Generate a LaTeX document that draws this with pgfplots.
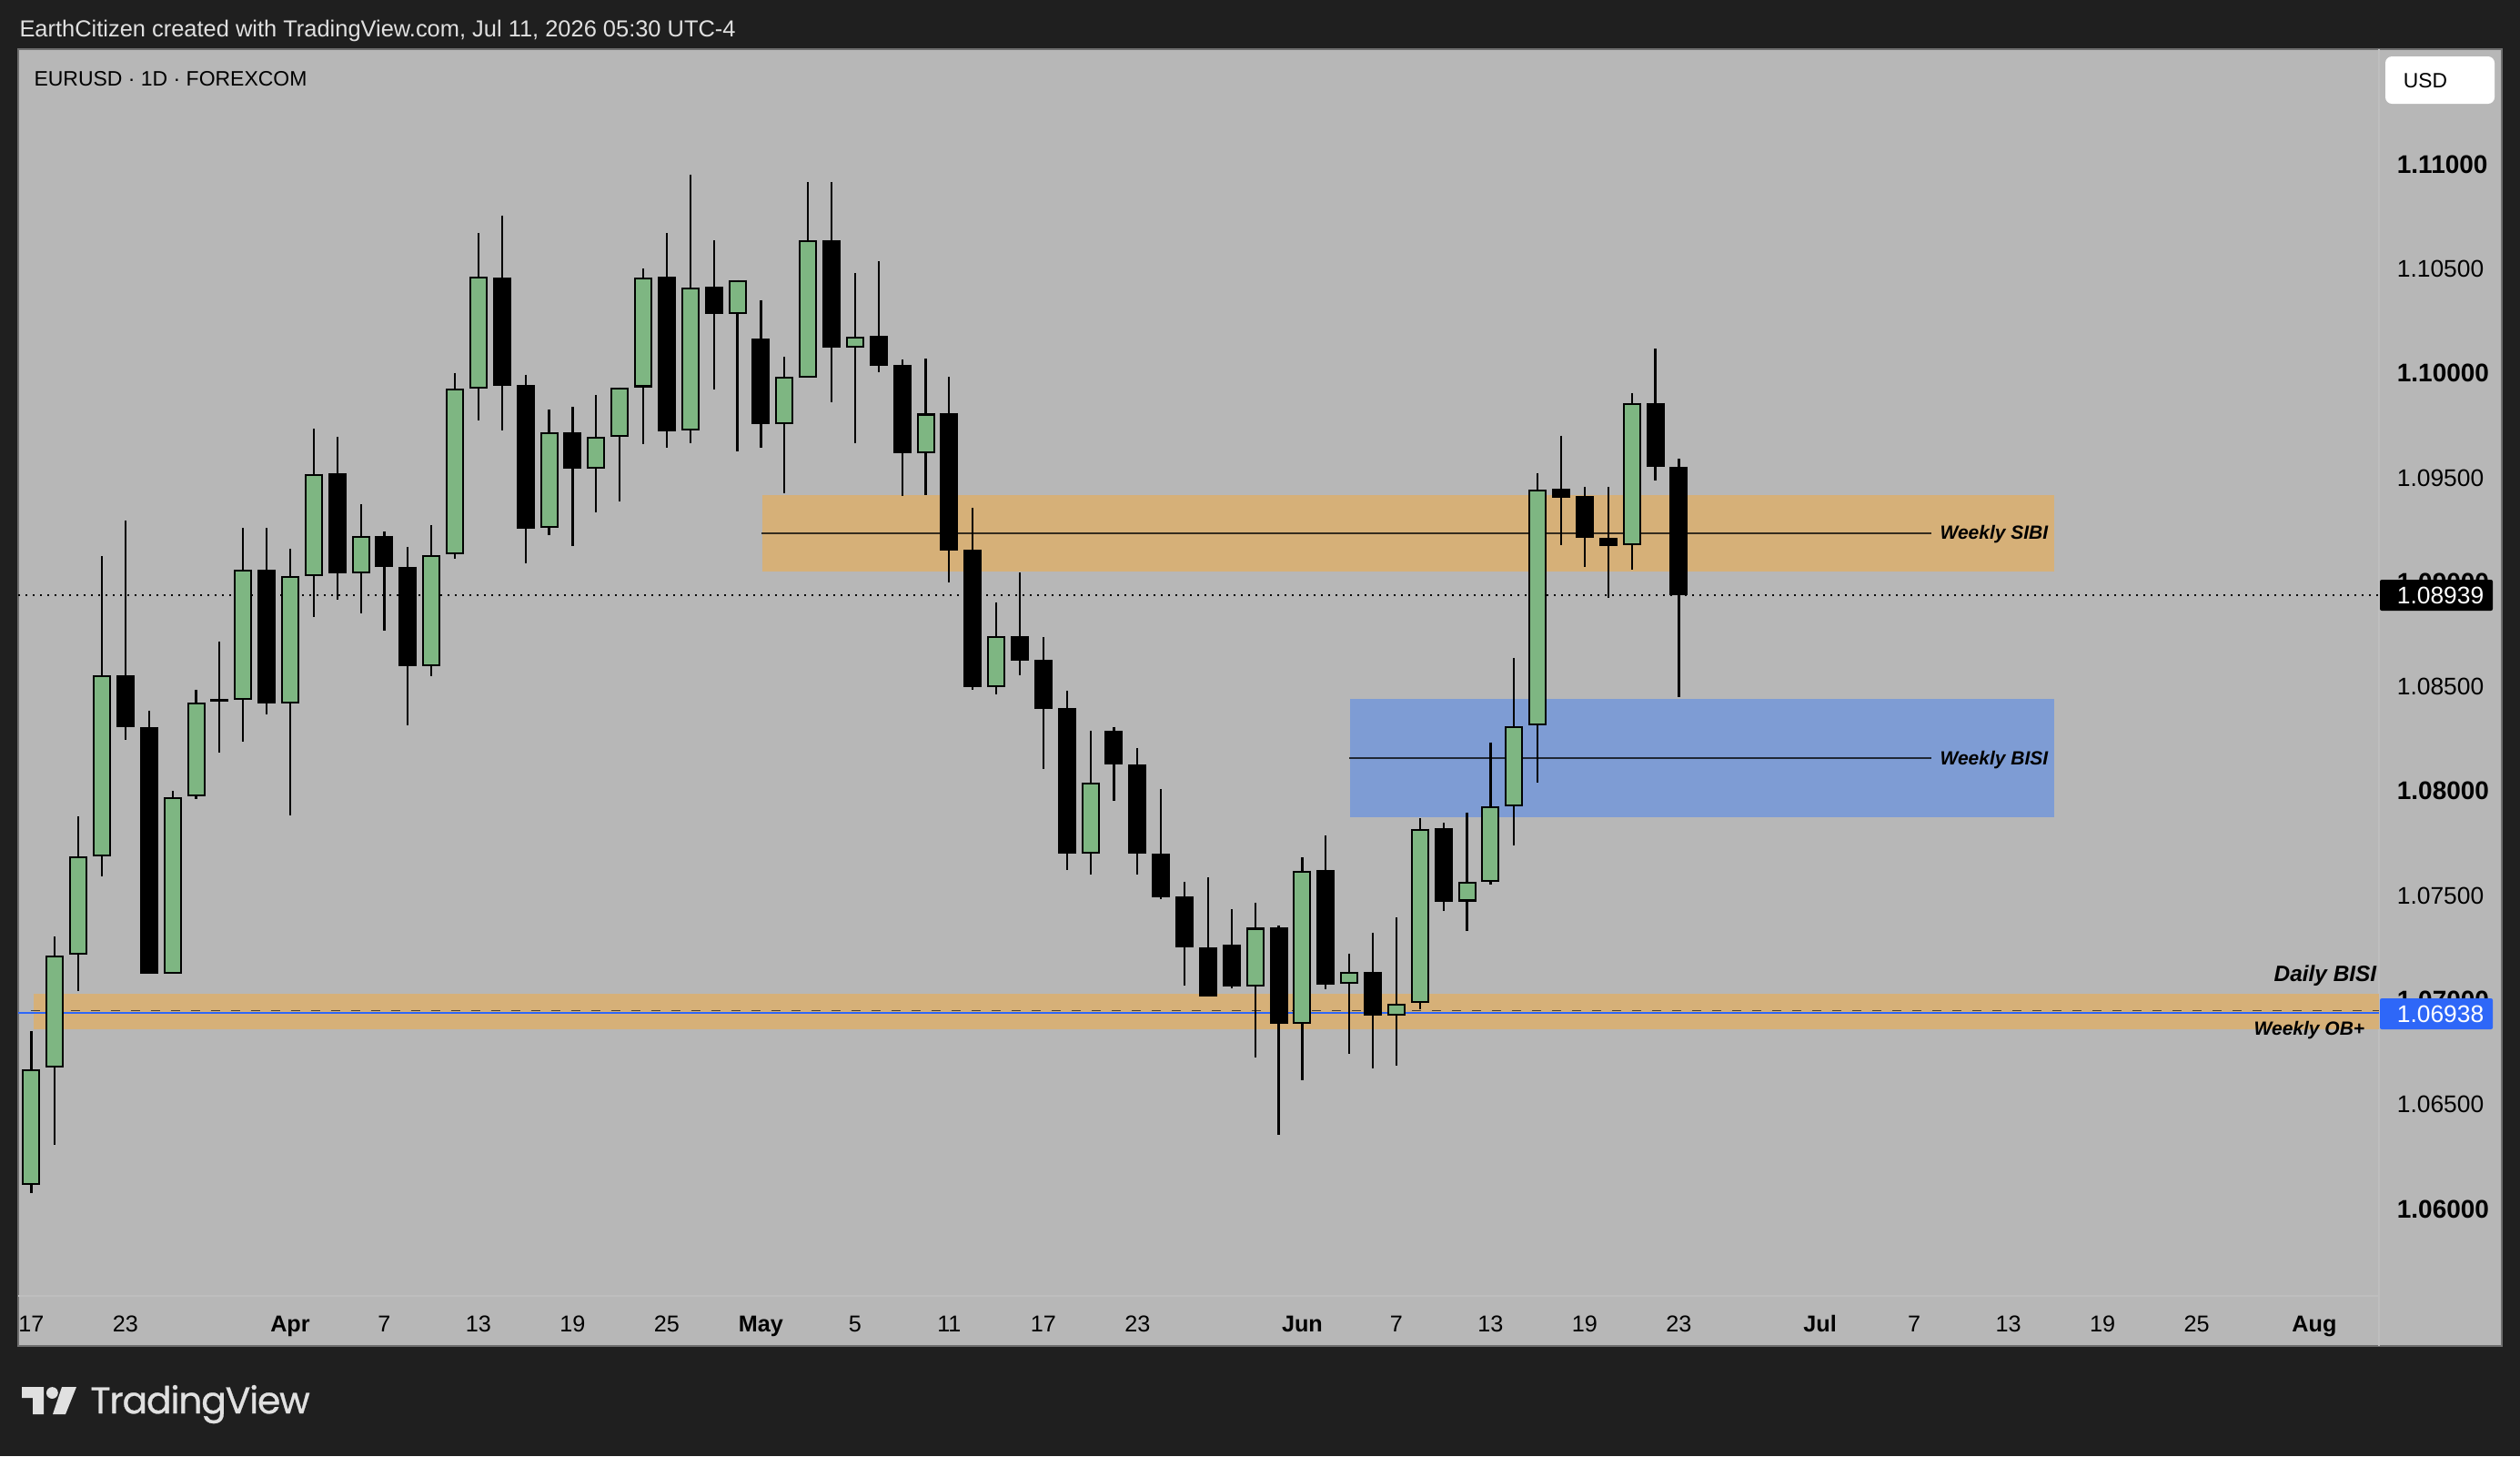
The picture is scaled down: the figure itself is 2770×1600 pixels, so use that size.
\documentclass[border=0pt]{standalone}
\usepackage{graphicx}
\usepackage{fontspec}
\setmainfont{Liberation Sans}
\newfontfamily\logofont[FakeBold=0.7]{Poppins}
\usepackage{pgfplots}
\usepackage{pgfplotstable}
\pgfplotsset{compat=1.18}
\definecolor{frame}{HTML}{1F1F1F}
\definecolor{panel}{HTML}{B7B7B7}
\definecolor{sep}{HTML}{BEBEBE}
\definecolor{bord}{HTML}{6E6E6E}
\definecolor{cgreen}{HTML}{7EB682}
\definecolor{zorange}{HTML}{D6B078}
\definecolor{zblue}{HTML}{7E9CD4}
\definecolor{tagblue}{HTML}{2E67F8}
\definecolor{titlec}{HTML}{E0E0E0}
\newcommand{\fs}[1]{\fontsize{#1}{#1}\selectfont}
\newcommand{\Bt}[1]{{\fs{7}\bfseries #1}}
\pgfplotstableread{
i o h l c
0 1.06115 1.06851 1.06076 1.06669
1 1.06677 1.07304 1.06307 1.07213
2 1.07217 1.07879 1.07043 1.07686
3 1.07686 1.09125 1.07592 1.08554
6 1.07126 1.08001 1.07126 1.07971
7 1.07975 1.08485 1.07962 1.08424
9 1.08437 1.09258 1.08237 1.09060
11 1.08419 1.09160 1.07886 1.09029
12 1.09029 1.09735 1.08833 1.09519
14 1.09042 1.09373 1.08851 1.09221
17 1.08598 1.09273 1.08552 1.09129
18 1.09134 1.10002 1.09114 1.09926
19 1.09926 1.10671 1.09772 1.10462
22 1.09260 1.09828 1.09227 1.09716
24 1.09543 1.09896 1.09336 1.09696
25 1.09696 1.09933 1.09386 1.09933
26 1.09933 1.10501 1.09663 1.10460
28 1.09726 1.10952 1.09667 1.10412
30 1.10285 1.10446 1.09628 1.10446
32 1.09758 1.10079 1.09424 1.09983
33 1.09980 1.10915 1.09980 1.10636
35 1.10124 1.10478 1.09667 1.10176
38 1.09618 1.10070 1.09417 1.09807
41 1.08496 1.08905 1.08463 1.08740
45 1.07701 1.08289 1.07602 1.08042
52 1.07066 1.07466 1.06726 1.07346
54 1.06888 1.07683 1.06618 1.07620
56 1.07078 1.07224 1.06744 1.07133
58 1.06924 1.07396 1.06684 1.06984
59 1.06986 1.07871 1.06956 1.07820
61 1.07472 1.07899 1.07332 1.07567
62 1.07567 1.08234 1.07551 1.07928
63 1.07928 1.08638 1.07741 1.08311
64 1.08314 1.09523 1.08039 1.09443
68 1.09177 1.09905 1.09058 1.09858
}\tgreen
\pgfplotstableread{
i o h l c
4 1.08554 1.09295 1.08245 1.08306
5 1.08306 1.08385 1.07126 1.07126
8 1.08441 1.08716 1.08184 1.08428
10 1.09060 1.09258 1.08369 1.08419
13 1.09521 1.09696 1.08914 1.09042
15 1.09221 1.09243 1.08768 1.09075
16 1.09075 1.09169 1.08315 1.08598
20 1.10460 1.10756 1.09724 1.09939
21 1.09942 1.09993 1.09090 1.09256
23 1.09717 1.09839 1.09175 1.09543
27 1.10462 1.10671 1.09645 1.09723
29 1.10414 1.10636 1.09923 1.10285
31 1.10166 1.10351 1.09645 1.09758
34 1.10636 1.10915 1.09863 1.10122
36 1.10179 1.10536 1.10003 1.10036
37 1.10040 1.10066 1.09414 1.09618
39 1.09809 1.09983 1.09000 1.09153
40 1.09155 1.09356 1.08483 1.08496
42 1.08742 1.09047 1.08554 1.08626
43 1.08628 1.08737 1.08104 1.08395
44 1.08398 1.08480 1.07624 1.07701
46 1.08289 1.08308 1.07955 1.08128
47 1.08128 1.08206 1.07602 1.07701
48 1.07702 1.08010 1.07483 1.07493
49 1.07496 1.07566 1.07071 1.07252
50 1.07253 1.07588 1.07015 1.07015
51 1.07266 1.07435 1.07057 1.07066
53 1.07348 1.07358 1.06353 1.06888
55 1.07622 1.07788 1.07053 1.07075
57 1.07135 1.07324 1.06671 1.06924
60 1.07823 1.07849 1.07426 1.07472
65 1.09446 1.09702 1.09179 1.09406
66 1.09412 1.09457 1.09071 1.09211
67 1.09211 1.09457 1.08926 1.09174
69 1.09858 1.10117 1.09488 1.09554
70 1.09554 1.09589 1.08448 1.08939
}\tblack
\begin{document}
\begin{tikzpicture}
\begin{scope}[x=0.25pt,y=-0.25pt]
\fill[frame] (0,0) rectangle (2770,1600);
\path[use as bounding box] (0,0) rectangle (2770,1600);
\fill[panel] (20,54) rectangle (2750,1479);
\draw[bord,line width=0.4pt] (20,54) rectangle (2750,1479);
\draw[sep,line width=0.4pt] (20,1424) -- (2615,1424);
\draw[sep,line width=0.4pt] (2615,54) -- (2615,1479);
\end{scope}
\begin{axis}[
  at={(5pt,-356pt)}, anchor=south west,
  width=648.75pt, height=342.5pt, scale only axis,
  xmin=-0.5566, xmax=99.75, ymin=1.055841, ymax=1.11551,
  axis line style={draw=none},
  major tick length=0pt, minor tick length=0pt,
  xtick={0,4,11,15,19,23,27,31,35,39,43,47,54,58,62,66,70,76,80,84,88,92,97},
  xticklabels={17,23,\textbf{Apr},7,13,19,25,\textbf{May},5,11,17,23,\textbf{Jun},7,13,19,23,\textbf{Jul},7,13,19,25,\textbf{Aug}},
  xticklabel style={font=\fs{6.3}, anchor=base, yshift=-9.9pt, text=black, inner sep=0pt},
  yticklabel pos=right,
  ytick={1.06,1.065,1.07,1.075,1.08,1.085,1.09,1.095,1.10,1.105,1.11},
  yticklabels={\Bt{1.06000},1.06500,\Bt{1.07000},1.07500,\Bt{1.08000},1.08500,\Bt{1.09000},1.09500,\Bt{1.10000},1.10500,\Bt{1.11000}},
  yticklabel style={font=\fs{6.6}, anchor=west, xshift=4.75pt, inner sep=0pt, text=black},
  clip=true,
]
% zones
\addplot[fill=zorange,draw=none,forget plot] coordinates {(31.06,1.09417)(85.95,1.09417)(85.95,1.09051)(31.06,1.09051)} -- cycle;
\addplot[fill=zblue,draw=none,forget plot] coordinates {(56.03,1.08441)(85.95,1.08441)(85.95,1.07876)(56.03,1.07876)} -- cycle;
\addplot[fill=zorange,draw=none,forget plot] coordinates {(0.1,1.0703)(99.75,1.0703)(99.75,1.0686)(0.1,1.0686)} -- cycle;
% level lines
\addplot[black,opacity=0.75,line width=0.45pt,forget plot] coordinates {(31.02,1.09234)(80.73,1.09234)};
\addplot[black,opacity=0.75,line width=0.45pt,forget plot] coordinates {(56,1.08158)(80.73,1.08158)};
\addplot[black,opacity=0.65,line width=0.4pt,dash pattern=on 2.5pt off 3pt,forget plot] coordinates {(0,1.06949)(99.75,1.06949)};
\addplot[tagblue,line width=0.45pt,forget plot] coordinates {(-0.5566,1.06938)(99.75,1.06938)};
\addplot[black,line width=0.42pt,dash pattern=on 0.6pt off 1.4pt,forget plot] coordinates {(-0.5566,1.08939)(99.75,1.08939)};
% wicks
\addplot[draw=none,mark=none,forget plot,error bars/.cd,y dir=minus,y explicit,error mark=none,error bar style={draw=black,solid,line width=0.55pt}]
  table[x=i,y=h,y error minus expr=\thisrow{h}-\thisrow{l}] {\tgreen};
\addplot[draw=none,mark=none,forget plot,error bars/.cd,y dir=minus,y explicit,error mark=none,error bar style={draw=black,solid,line width=0.55pt}]
  table[x=i,y=h,y error minus expr=\thisrow{h}-\thisrow{l}] {\tblack};
% bodies
\addplot[draw=none,mark=none,forget plot,error bars/.cd,y dir=minus,y explicit,error mark=none,error bar style={draw=black,solid,line width=5pt}]
  table[x=i,y=o,y error minus expr=\thisrow{o}-\thisrow{c}] {\tblack};
\addplot[draw=none,mark=none,forget plot,error bars/.cd,y dir=minus,y explicit,error mark=none,error bar style={draw=black,solid,line width=5pt}]
  table[x=i,y=c,y error minus expr=\thisrow{c}-\thisrow{o}] {\tgreen};
\addplot[draw=none,mark=none,forget plot,error bars/.cd,y dir=minus,y explicit,error mark=none,error bar style={draw=cgreen,solid,line width=4pt}]
  table[x=i,y expr=\thisrow{c}-0.00009,y error minus expr=\thisrow{c}-\thisrow{o}-0.00018] {\tgreen};
\end{axis}
\begin{scope}[x=0.25pt,y=-0.25pt]
% price tags
\fill[black,rounded corners=0.5pt] (2616,637) rectangle (2740,671);
\node[anchor=west,inner sep=0pt,text=white,font=\fs{6.6}] at (2634,654) {1.08939};
\fill[tagblue,rounded corners=0.5pt] (2616,1097) rectangle (2740,1131);
\node[anchor=west,inner sep=0pt,text=white,font=\fs{6.6}] at (2634,1114) {1.06938};
% USD button
\fill[white,rounded corners=1.8pt] (2622,62) rectangle (2742,114);
\node[anchor=west,inner sep=0pt,text=black,font=\fs{5.7}] at (2641,88.5) {USD};
% labels
\node[anchor=east,inner sep=0pt,text=black,font=\fs{5.25}\bfseries\itshape] at (2252,587.5) {Weekly SIBI};
\node[anchor=east,inner sep=0pt,text=black,font=\fs{5.25}\bfseries\itshape] at (2252,835.5) {Weekly BISI};
\node[anchor=east,inner sep=0pt,text=black,font=\fs{6.1}\bfseries\itshape] at (2613,1072) {Daily BISI};
\node[anchor=east,inner sep=0pt,text=black,font=\fs{5.25}\bfseries\itshape] at (2600,1132.5) {Weekly OB+};
% titles
\node[anchor=west,inner sep=0pt,text=titlec] at (20.7,33.5) {\resizebox{196.8pt}{!}{\fs{5.8}EarthCitizen created with TradingView.com, Jul 11, 2026 05:30 UTC-4}};
\node[anchor=west,inner sep=0pt,text=black] at (36.7,87) {\resizebox{75pt}{!}{\fs{5.8}EURUSD · 1D · FOREXCOM}};
% logo
\fill[titlec] (24,1524) -- (48,1524) -- (48,1554) -- (36,1554) -- (36,1536) -- (24,1536) -- cycle;
\fill[titlec] (57.4,1530.5) circle (1.6pt);
\fill[titlec] (68,1524) -- (84,1524) -- (72,1554) -- (58,1554) -- cycle;
\node[anchor=west,inner sep=0pt,text=titlec] at (98.7,1543) {\resizebox{60.3pt}{!}{\logofont\fs{10}\addfontfeature{LetterSpace=-3}TradingView}};
\end{scope}
\end{tikzpicture}
\end{document}
